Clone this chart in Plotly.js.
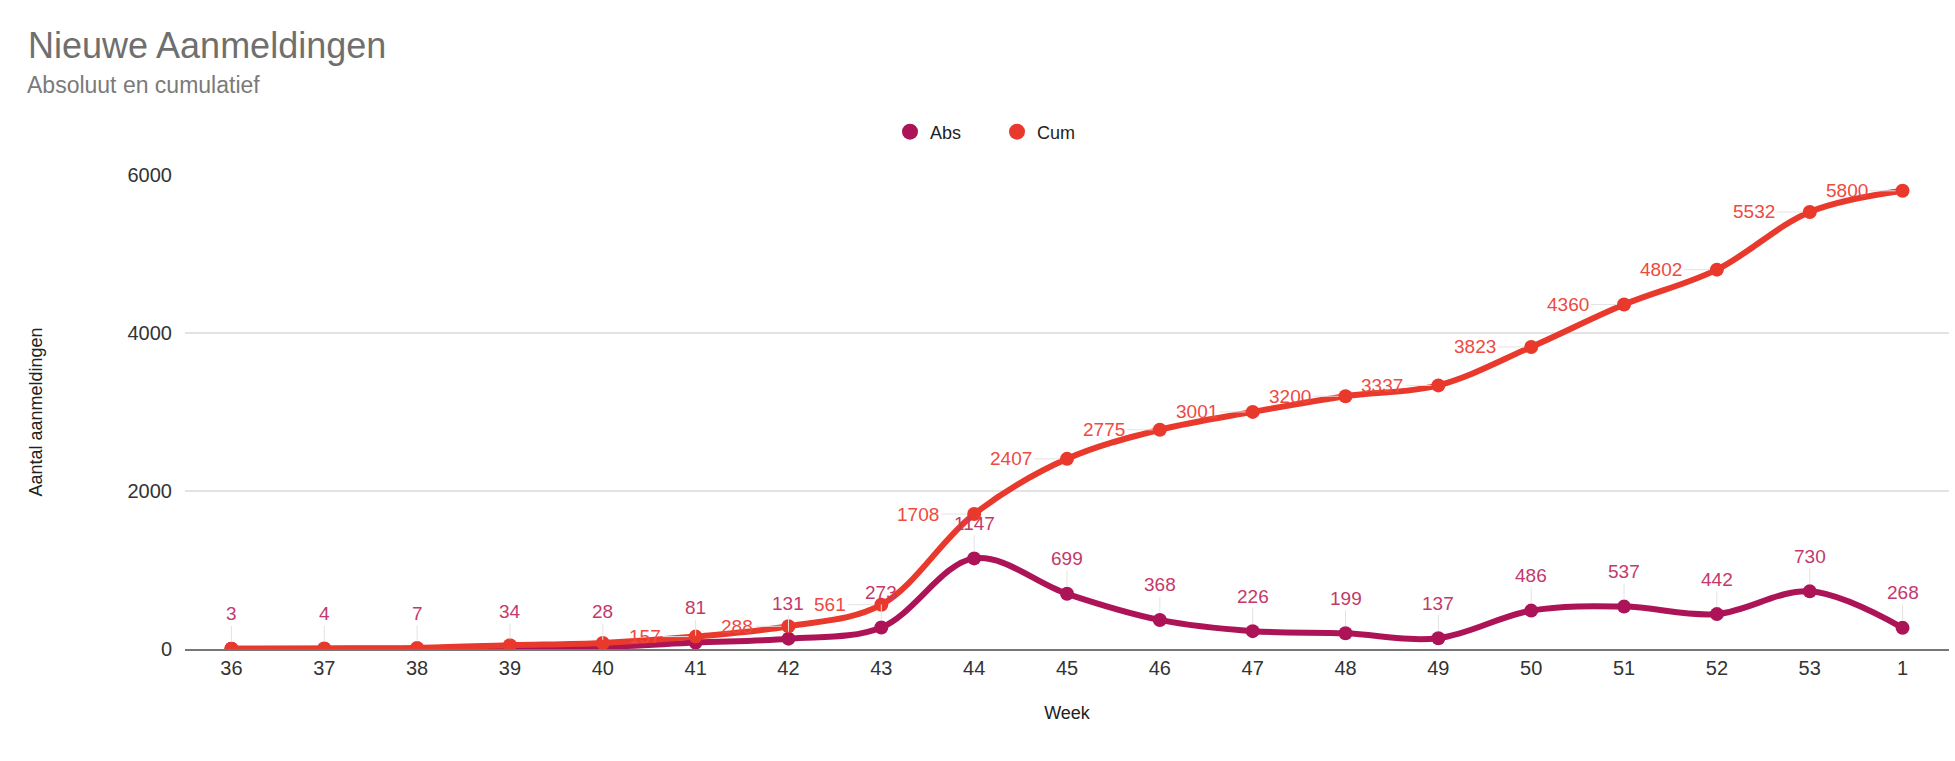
<!DOCTYPE html>
<html>
<head>
<meta charset="utf-8">
<script src="https://cdn.plot.ly/plotly-3.0.1.min.js"></script>
<style>
  html, body { margin: 0; padding: 0; background: #fff; }
  #chart { width: 1955px; height: 761px; }
</style>
</head>
<body>
<div id="chart"></div>
<script>
// ---- data ----
const weeks = ["36","37","38","39","40","41","42","43","44","45","46","47","48","49","50","51","52","53","1"];
const absValues = [3, 4, 7, 34, 28, 81, 131, 273, 1147, 699, 368, 226, 199, 137, 486, 537, 442, 730, 268];
const cumValues = [3, 7, 14, 48, 76, 157, 288, 561, 1708, 2407, 2775, 3001, 3200, 3337, 3823, 4360, 4802, 5532, 5800];
const cumLabelShown = [false, false, false, false, false, true, true, true, true, true, true, true, true, true, true, true, true, true, true];
const yTicks = [0, 2000, 4000, 6000];

const absColor = '#ad1457';
const cumColor = '#e8392c';
const absLabelColor = '#c4396a';
const cumLabelColor = '#ee4a3f';
const font = 'Liberation Sans, Arial, sans-serif';

const traces = [
  {
    x: weeks, y: absValues, name: 'Abs', type: 'scatter', mode: 'lines+markers',
    line: { color: absColor, width: 6, shape: 'spline', smoothing: 1 },
    marker: { color: absColor, size: 14 },
    showlegend: false, hoverinfo: 'skip'
  },
  {
    x: weeks, y: cumValues, name: 'Cum', type: 'scatter', mode: 'lines+markers',
    line: { color: cumColor, width: 6, shape: 'spline', smoothing: 1 },
    marker: { color: cumColor, size: 14 },
    showlegend: false, hoverinfo: 'skip'
  },
  { x: [null], y: [null], name: 'Abs', type: 'scatter', mode: 'markers',
    marker: { color: absColor, size: 16 }, showlegend: true },
  { x: [null], y: [null], name: 'Cum', type: 'scatter', mode: 'markers',
    marker: { color: cumColor, size: 16 }, showlegend: true }
];

const annotations = [];
weeks.forEach((w, i) => {
  // category axes: annotation x is the category's serial number
  annotations.push({
    x: i, y: absValues[i], xref: 'x', yref: 'y', text: String(absValues[i]),
    showarrow: true, arrowhead: 0, arrowwidth: 1, arrowcolor: '#e3e3e3', standoff: 7,
    ax: 0, ay: -35, xanchor: 'center', yanchor: 'middle',
    font: { family: font, size: 19, color: absLabelColor }
  });
  if (cumLabelShown[i]) {
    annotations.push({
      x: i, y: cumValues[i], xref: 'x', yref: 'y', text: String(cumValues[i]),
      showarrow: true, arrowhead: 0, arrowwidth: 1, arrowcolor: '#e3e3e3', standoff: 7,
      ax: -33, ay: 0, xanchor: 'right', yanchor: 'middle',
      font: { family: font, size: 19, color: cumLabelColor }
    });
  }
});
annotations.push({
  text: 'Absoluut en cumulatief', xref: 'paper', yref: 'paper',
  x: (25 - 185) / 1764, y: (649 - 85) / 474, xanchor: 'left', yanchor: 'middle',
  showarrow: false, font: { family: font, size: 23, color: '#7a7a7a' }
});

const layout = {
  width: 1955, height: 761,
  margin: { l: 185, r: 6, t: 175, b: 112 },
  paper_bgcolor: '#ffffff', plot_bgcolor: '#ffffff',
  font: { family: font, color: '#333' },
  title: {
    text: 'Nieuwe Aanmeldingen', xref: 'container', yref: 'container',
    x: 28 / 1955, xanchor: 'left', y: 1 - 45 / 761, yanchor: 'middle',
    font: { family: font, size: 36, color: '#6f6f6f' }
  },
  showlegend: true,
  legend: {
    orientation: 'h', x: (890 - 185) / 1764, xanchor: 'left', y: (649 - 132) / 474, yanchor: 'middle',
    entrywidth: 62, entrywidthmode: 'pixels',
    font: { family: font, size: 18, color: '#222' }, bgcolor: 'rgba(0,0,0,0)'
  },
  xaxis: {
    type: 'category', range: [-0.5, 18.5], showgrid: false,
    showline: true, linecolor: '#777', linewidth: 2,
    ticks: '',
    tickfont: { family: font, size: 20, color: '#333' },
    title: { text: 'Week', standoff: 28, font: { family: font, size: 18, color: '#222' } },
    fixedrange: true
  },
  yaxis: {
    range: [0, 6000], tickvals: yTicks, tickformat: 'd',
    showgrid: true, gridcolor: '#e3e3e3', gridwidth: 2, zeroline: false,
    ticks: 'outside', ticklen: 8, tickcolor: 'rgba(0,0,0,0)',
    tickfont: { family: font, size: 20, color: '#333' },
    title: { text: 'Aantal aanmeldingen', standoff: 80, font: { family: font, size: 18, color: '#222' } },
    fixedrange: true
  },
  annotations: annotations,
  hovermode: false
};

Plotly.newPlot('chart', traces, layout, { displayModeBar: false, staticPlot: true });
</script>
</body>
</html>
